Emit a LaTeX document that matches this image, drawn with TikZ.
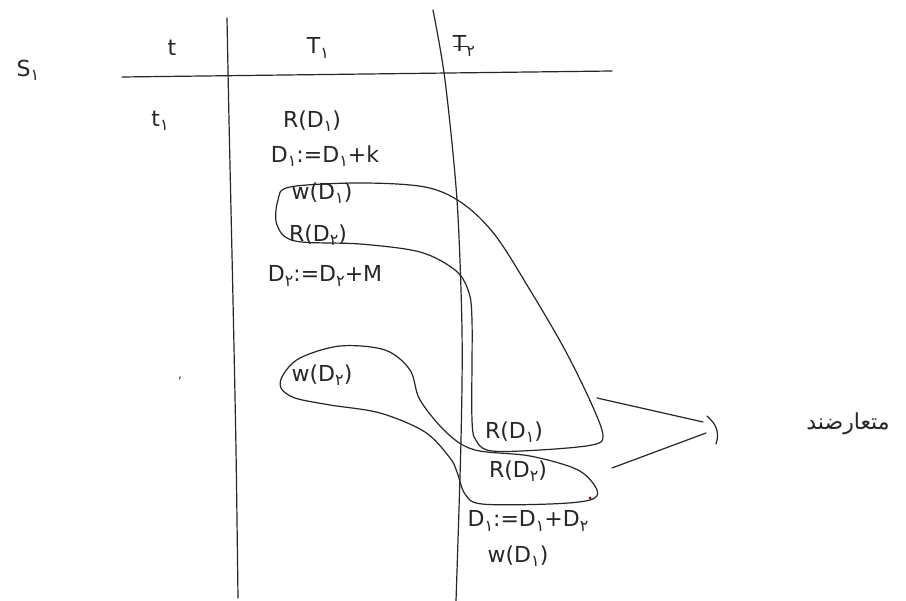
\documentclass[tikz,border=0pt]{standalone}
\usepackage{fontspec}
\setmainfont{DejaVu Sans}
\newfontfamily\arabicfont[Script=Arabic]{DejaVu Sans}
\TeXXeTstate=1
\newcommand{\sbt}[1]{\raisebox{-0.35ex}{\fontsize{16}{18}\selectfont #1}}
\newcommand{\one}{\sbt{۱}}
\newcommand{\two}{\sbt{۲}}
\begin{document}
\begin{tikzpicture}[x=1pt,y=-1pt,
  ink/.style={draw=black!85,line width=1.2pt,line cap=round,line join=round},
  hw/.style={inner sep=0pt,text=black!85,font=\fontsize{22}{26}\selectfont}]
\useasboundingbox[fill=white] (0,0) rectangle (906,601);
% grid lines
\draw[ink] (122,77) -- (612,71);
\draw[ink] plot[smooth] coordinates {(227,18) (229,120) (233,300) (236,450) (238,598)};
\draw[ink] plot[smooth] coordinates {(433,10) (445,80) (457,200) (462,330) (461,440) (456,601)};
% headers
\node[hw] (s1) at (28,70) {S\one};
\node[hw] (th) at (172,48) {t};
\node[hw] (t1h) at (318,48) {T\one};
\node[hw] (t2h) at (464,46) {T\two};
\draw[ink,line width=0.9pt] ([xshift=1pt,yshift=0pt]t2h.west) -- ++(13,0);
% column t
\node[hw] (t1) at (160,121) {t\one};
\node[hw] (mark) at (180,378) {\fontsize{12}{12}\selectfont ,};
% column T1
\node[hw] (a1) at (312,121) {R(D\one)};
\node[hw] (a2) at (325,156) {D\one:=D\one+k};
\node[hw] (a3) at (322,193) {w(D\one)};
\node[hw] (a4) at (318,235) {R(D\two)};
\node[hw] (a5) at (325,276) {D\two:=D\two+M};
\node[hw] (a6) at (322,375) {w(D\two)};
% column T2
\node[hw] (b1) at (514,432) {R(D\one)};
\node[hw] (b2) at (518,471) {R(D\two)};
\node[hw] (b3) at (528,521) {D\one:=D\one+D\two};
\node[hw] (b4) at (518,556) {w(D\one)};
% loops
\draw[ink] plot[smooth cycle,tension=0.55] coordinates {(290,187) (360,183) (425,187) (462,203) (495,235) (530,290) (565,350) (592,405) (603,436) (592,445) (540,450) (492,451) (477,442) (472,420) (472,320) (468,290) (455,270) (420,252) (360,244) (295,241) (277,225) (278,200)};
\draw[ink] plot[smooth cycle,tension=0.55] coordinates {(283,375) (300,358) (340,346) (385,350) (410,370) (420,400) (447,433) (475,450) (530,456) (578,470) (597,490) (590,500) (550,504) (482,504) (465,494) (457,472) (450,458) (425,432) (380,413) (330,405) (295,398) (281,388)};
\fill[red!50!black] (590,498) circle (1.5);
% bracket
\coordinate (u1) at (597,398);
\coordinate (u2) at (703,422);
\coordinate (l1) at (612,468);
\coordinate (l2) at (706,433);
\draw[ink] (u1) -- (u2);
\draw[ink] (l1) -- (l2);
\draw[ink] (707,416) .. controls (716,424) and (720,432) .. (716,444);
\node[hw] (conf) at (848,424) {\arabicfont\beginR متعارضند\endR};
\end{tikzpicture}
\end{document}
